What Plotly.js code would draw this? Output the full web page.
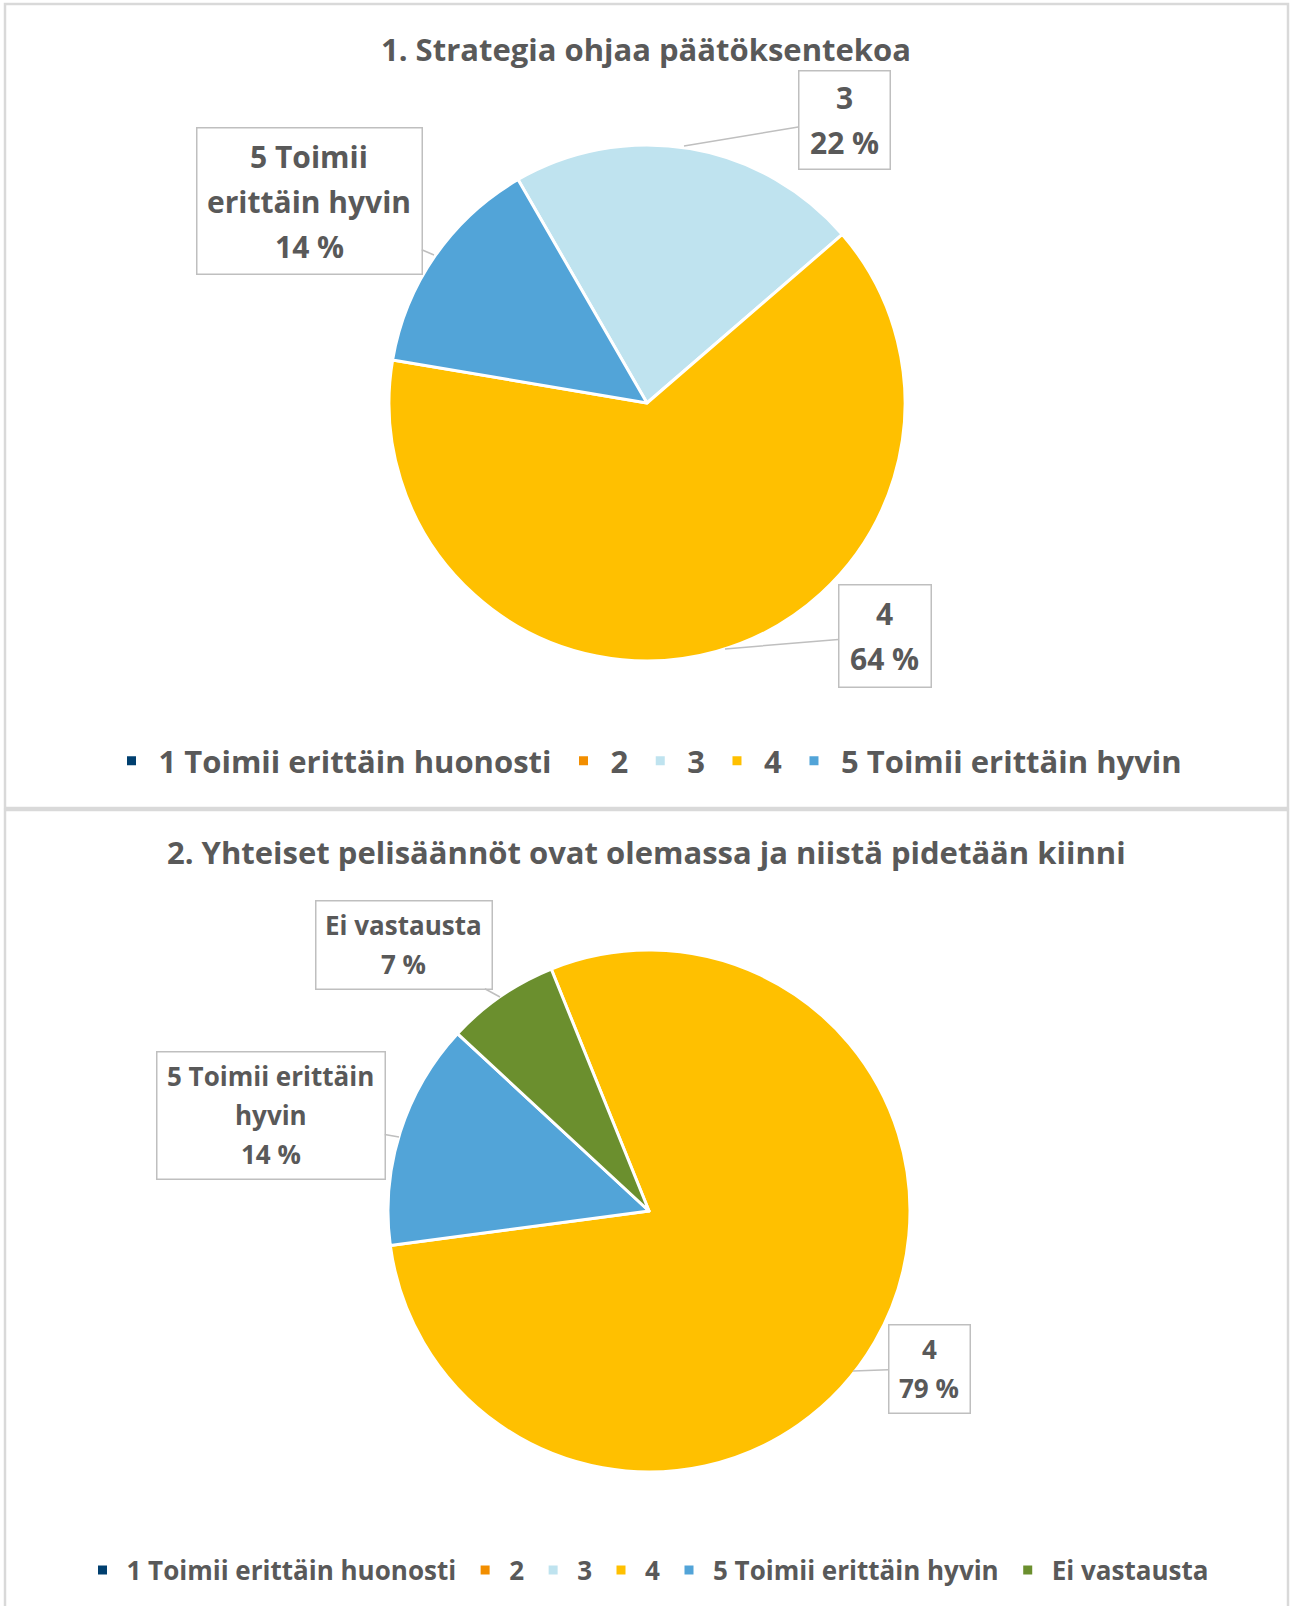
<!DOCTYPE html>
<html>
<head>
<meta charset="utf-8">
<script src="https://cdn.plot.ly/plotly-3.0.1.min.js"></script>
<style>html,body{margin:0;padding:0;background:#fff;}#chart{width:1292px;height:1606px;}</style>
</head>
<body>
<div id="chart"></div>
<script>
// ---- data ----
const title1 = '1. Strategia ohjaa päätöksentekoa';
const title2 = '2. Yhteiset pelisäännöt ovat olemassa ja niistä pidetään kiinni';
const labels1 = ['1 Toimii erittäin huonosti', '2', '3', '4', '5 Toimii erittäin hyvin'];
const values1 = [0, 0, 22, 64, 14];
const labels2 = ['1 Toimii erittäin huonosti', '2', '3', '4', '5 Toimii erittäin hyvin', 'Ei vastausta'];
const values2 = [0, 0, 0, 79, 14, 7];
const colors = ['#003f6f', '#f28e00', '#bfe3ef', '#ffc000', '#52a4d8', '#6b8f2e'];

// ---- layout helpers ----
const W = 1292, H = 1606;
const px = x => x / W, py = y => 1 - y / H;
const TXT = '#595959';
const FONT = '"Open Sans", "Noto Sans", sans-serif';

function wrapLines(s, maxChars) {
  const words = s.split(' '); const lines = []; let cur = '';
  words.forEach(w => {
    if (cur && (cur + ' ' + w).length > maxChars) { lines.push(cur); cur = w; }
    else cur = cur ? cur + ' ' + w : w;
  });
  if (cur) lines.push(cur);
  return lines;
}
function pct(vals, i) {
  const s = vals.reduce((a, b) => a + b, 0);
  return Math.round(vals[i] / s * 100) + ' %';
}
// callout box with leader line + centred text lines
function callout(labs, vals, i, box, pt, fs, wc, ls) {
  const cx = (box[0] + box[2]) / 2, cy = (box[1] + box[3]) / 2;
  const out = [{
    xref: 'paper', yref: 'paper', x: px(pt[0]), y: py(pt[1]),
    ax: cx - pt[0], ay: cy - pt[1],
    showarrow: true, arrowhead: 0, arrowwidth: 1.5, arrowcolor: '#bfbfbf',
    text: ' ', font: {family: FONT, size: 10, color: TXT},
    bgcolor: '#ffffff', bordercolor: '#bfbfbf', borderwidth: 1.5, borderpad: 0,
    width: box[2] - box[0], height: box[3] - box[1]
  }];
  const lines = wrapLines(labs[i], wc).concat([pct(vals, i)]);
  const n = lines.length;
  lines.forEach((t, k) => {
    out.push({
      xref: 'paper', yref: 'paper', x: px(cx), y: py(cy + (k - (n - 1) / 2) * ls),
      xanchor: 'center', yanchor: 'middle', showarrow: false,
      text: '<b>' + t + '</b>', font: {family: FONT, size: fs, color: TXT}
    });
  });
  return out;
}

const traces = [
  {
    type: 'pie', labels: labels1, values: values1, sort: false, direction: 'clockwise',
    rotation: -30, textinfo: 'none', hoverinfo: 'skip',
    marker: {colors: colors.slice(0, labels1.length), line: {color: '#ffffff', width: 3}},
    domain: {x: [px(389), px(905)], y: [py(661), py(145)]},
    legend: 'legend', legendgroup: 'g1'
  },
  {
    type: 'pie', labels: labels2, values: values2, sort: false, direction: 'clockwise',
    rotation: -22, textinfo: 'none', hoverinfo: 'skip',
    marker: {colors: colors.slice(0, labels2.length), line: {color: '#ffffff', width: 3}},
    domain: {x: [px(388), px(910)], y: [py(1472), py(950)]},
    legend: 'legend2', legendgroup: 'g2'
  }
];

const layout = {
  width: W, height: H,
  margin: {l: 0, r: 0, t: 0, b: 0},
  paper_bgcolor: '#ffffff',
  showlegend: true,
  legend: {
    orientation: 'h', x: 0.5, xanchor: 'center', y: py(761), yanchor: 'middle', itemwidth: 44,
    font: {family: FONT, size: 31, color: TXT, weight: 'bold'}, traceorder: 'normal'
  },
  legend2: {
    orientation: 'h', x: 0.5, xanchor: 'center', y: py(1570), yanchor: 'middle', itemwidth: 38,
    font: {family: FONT, size: 26, color: TXT, weight: 'bold'}, traceorder: 'normal'
  },
  shapes: [
    {type: 'rect', xref: 'paper', yref: 'paper', x0: px(5), x1: px(1288), y0: py(4), y1: py(808),
     line: {color: '#d9d9d9', width: 2.5}, layer: 'below'},
    {type: 'rect', xref: 'paper', yref: 'paper', x0: px(5), x1: px(1288), y0: py(810), y1: py(1620),
     line: {color: '#d9d9d9', width: 2.5}, layer: 'below'}
  ],
  annotations: [
    {xref: 'paper', yref: 'paper', x: 0.5, y: py(49), xanchor: 'center', yanchor: 'middle', showarrow: false,
     text: '<b>' + title1 + '</b>', font: {family: FONT, size: 31, color: TXT}},
    {xref: 'paper', yref: 'paper', x: 0.5, y: py(852), xanchor: 'center', yanchor: 'middle', showarrow: false,
     text: '<b>' + title2 + '</b>', font: {family: FONT, size: 31, color: TXT}}
  ].concat(
    callout(labels1, values1, 2, [799, 71, 889, 168], [684, 146], 30, 14, 45),
    callout(labels1, values1, 4, [197, 129, 421, 274], [434, 255], 30, 14, 45),
    callout(labels1, values1, 3, [839, 585, 930, 686], [725, 649], 30, 14, 45),
    callout(labels2, values2, 5, [316, 901, 491, 988], [500, 997], 26, 17, 39),
    callout(labels2, values2, 4, [157, 1052, 384, 1178], [399, 1137], 26, 17, 39),
    callout(labels2, values2, 3, [889, 1325, 969, 1412], [853, 1371], 26, 17, 39)
  )
};

Plotly.newPlot('chart', traces, layout, {displayModeBar: false, staticPlot: true});
</script>
</body>
</html>
